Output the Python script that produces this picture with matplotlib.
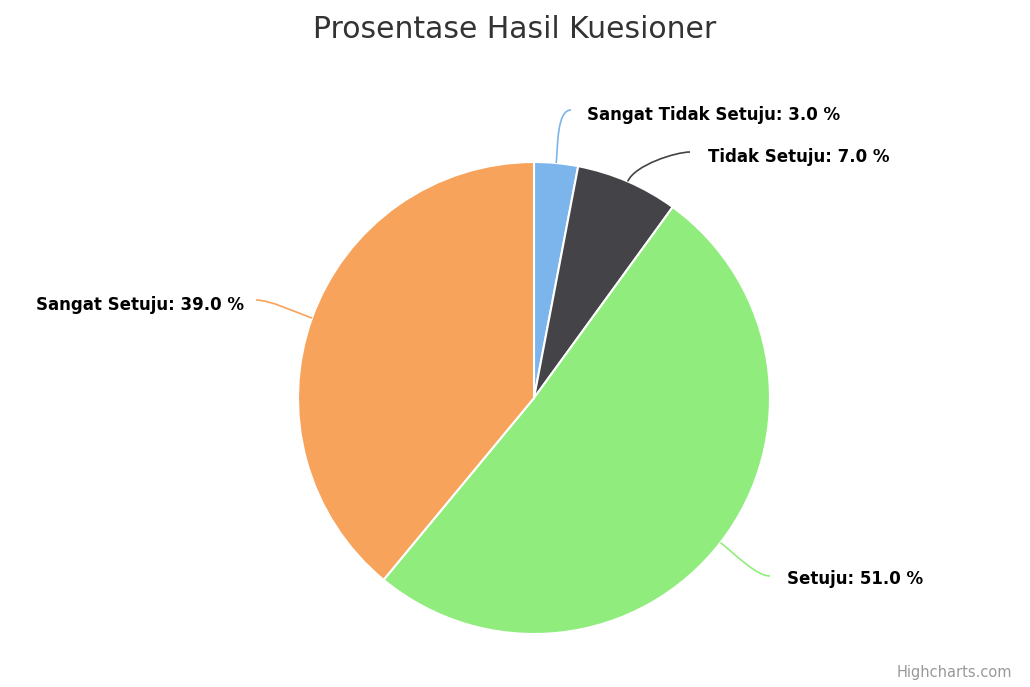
import matplotlib
matplotlib.use("Agg")
import matplotlib.pyplot as plt
import numpy as np
from matplotlib.path import Path
from matplotlib.patches import PathPatch

categories = ["Sangat Tidak Setuju", "Tidak Setuju", "Setuju", "Sangat Setuju"]
values = [3.0, 7.0, 51.0, 39.0]
colors = ["#7cb5ec", "#434348", "#90ed7d", "#f7a35c"]
title = "Prosentase Hasil Kuesioner"

W, H = 1030, 687
fig = plt.figure(figsize=(W / 100, H / 100), dpi=100)
ax = fig.add_axes([0, 0, 1, 1])

cx, cy, R = 534, H - 398, 236
wedges, _ = ax.pie(values, colors=colors, startangle=90, counterclock=False,
                   center=(cx, cy), radius=R, frame=True,
                   wedgeprops=dict(edgecolor="white", linewidth=1.5))
ax.set_xlim(0, W)
ax.set_ylim(0, H)
ax.set_aspect("equal")
ax.axis("off")

# label anchors (pixel coords, y from top) and alignment
label_pos = [(587, 115, "left"), (708, 157, "left"), (787, 579, "left"), (244, 305, "right")]
conn_end = [(571, 110), (690, 152), (770, 576), (256, 300)]

for w, cat, v, col, (lx, ly, ha), (ex, ey) in zip(wedges, categories, values, colors, label_pos, conn_end):
    mid = np.deg2rad((w.theta1 + w.theta2) / 2)
    sx, sy = cx + R * np.cos(mid), cy + R * np.sin(mid)
    ox, oy = cx + (R + 18) * np.cos(mid), cy + (R + 18) * np.sin(mid)
    ey2 = H - ey
    bx = ex - 14 if ha == "left" else ex + 14
    verts = [(sx, sy), (ox, oy), (bx, ey2), (ex, ey2)]
    p = Path(verts, [Path.MOVETO, Path.CURVE4, Path.CURVE4, Path.CURVE4])
    ax.add_patch(PathPatch(p, facecolor="none", edgecolor=col, lw=1.2))
    ax.text(lx, H - ly, f"{cat}: {v:.1f} %", ha=ha, va="center",
            fontsize=12, fontweight="bold", color="#000000", family="DejaVu Sans")

ax.text(515, H - 30, title, ha="center", va="center", fontsize=21.5, color="#333333",
        family="DejaVu Sans")
ax.text(1012, H - 673, "Highcharts.com", ha="right", va="center", fontsize=10.5,
        color="#999999", family="DejaVu Sans")

fig.savefig("out.png", dpi=100)
